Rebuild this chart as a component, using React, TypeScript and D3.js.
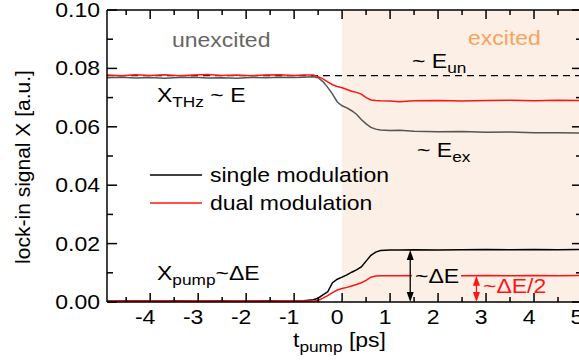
import React from 'react'
import * as d3 from 'd3'

// pump delay (ps)
const time = [-4.9, -4.6, -4.3, -4.0, -3.7, -3.4, -3.1, -2.8, -2.5, -2.2, -1.9, -1.6, -1.3, -1.0, -0.8, -0.6, -0.5, -0.4, -0.3, -0.2, -0.1, 0, 0.1, 0.2, 0.3, 0.4, 0.5, 0.6, 0.7, 0.8, 1.0, 1.2, 1.5, 2.0, 2.5, 3.0, 3.5, 4.0, 4.5, 5.0]

// X_THz, single modulation
const singleTHz = [0.0768, 0.0770, 0.0767, 0.0769, 0.0766, 0.0769, 0.0770, 0.0767, 0.0768, 0.0766, 0.0769, 0.0768, 0.0770, 0.0769, 0.0770, 0.0771, 0.0768, 0.0755, 0.0735, 0.0712, 0.0685, 0.0672, 0.0665, 0.0655, 0.0643, 0.0625, 0.0610, 0.0598, 0.0592, 0.0589, 0.0587, 0.0588, 0.0585, 0.0583, 0.0584, 0.0581, 0.0582, 0.0580, 0.0580, 0.0579]
// X_THz, dual modulation
const dualTHz = [0.0777, 0.0775, 0.0778, 0.0776, 0.0778, 0.0775, 0.0777, 0.0779, 0.0776, 0.0777, 0.0775, 0.0777, 0.0778, 0.0776, 0.0777, 0.0777, 0.0772, 0.0764, 0.0754, 0.0744, 0.0738, 0.0734, 0.0728, 0.0722, 0.0718, 0.0712, 0.0700, 0.0692, 0.0690, 0.0689, 0.0688, 0.0686, 0.0689, 0.0690, 0.0688, 0.0690, 0.0691, 0.0689, 0.0691, 0.0690]
// X_pump, single modulation
const singlePump = [0.0003, 0.0003, 0.0004, 0.0003, 0.0003, 0.0004, 0.0003, 0.0003, 0.0004, 0.0003, 0.0003, 0.0004, 0.0003, 0.0003, 0.0004, 0.0008, 0.0013, 0.0024, 0.0035, 0.0066, 0.0078, 0.0085, 0.0093, 0.0102, 0.0110, 0.0120, 0.0140, 0.0160, 0.0171, 0.0176, 0.0178, 0.0178, 0.0179, 0.0178, 0.0179, 0.0180, 0.0179, 0.0180, 0.0179, 0.0180]
// X_pump, dual modulation
const dualPump = [0.0003, 0.0003, 0.0003, 0.0003, 0.0003, 0.0003, 0.0003, 0.0003, 0.0003, 0.0003, 0.0003, 0.0003, 0.0003, 0.0003, 0.0003, 0.0003, 0.0005, 0.0013, 0.0022, 0.0032, 0.0041, 0.0046, 0.0050, 0.0055, 0.0060, 0.0066, 0.0074, 0.0085, 0.0089, 0.0090, 0.0090, 0.0090, 0.0091, 0.0090, 0.0090, 0.0091, 0.0090, 0.0091, 0.0090, 0.0091]

const eUn = 0.0775 // dashed reference level
const arrowBlack = { t: 1.42, top: 0.0178 }
const arrowRed = { t: 2.8, top: 0.009 }

const xTicks = [-4, -3, -2, -1, 0, 1, 2, 3, 4, 5]
const xMinor = [-4.5, -3.5, -2.5, -1.5, -0.5, 0.5, 1.5, 2.5, 3.5, 4.5]
const yTicks = [0, 0.02, 0.04, 0.06, 0.08, 0.1]
const yLabels = ['0.00', '0.02', '0.04', '0.06', '0.08', '0.10']
const yMinor = [0.01, 0.03, 0.05, 0.07, 0.09]

const W = 579
const H = 361
const FONT = 'Liberation Sans, Arial, Helvetica, sans-serif'
const SHADE = '#fbefe6'
const RED = '#ff1414'

// text that is a bit wider than plain Arial, like the original figure
function T({ x, y, anchor = 'start', size = 20, fill = '#000', sx = 1.15, children }: any) {
  return (
    <text transform={`translate(${x},${y}) scale(${sx},1)`} textAnchor={anchor} fontSize={size} fill={fill} fontFamily={FONT}>
      {children}
    </text>
  )
}

function Arrow({ x, y1, y2, color }: any) {
  const hl = 10, hw = 3.5
  return (
    <g fill={color} stroke={color}>
      <line x1={x} x2={x} y1={y1 + hl - 1} y2={y2 - hl + 1} strokeWidth={1.3} />
      <path d={`M${x},${y1} L${x - hw},${y1 + hl} L${x + hw},${y1 + hl} Z`} stroke="none" />
      <path d={`M${x},${y2} L${x - hw},${y2 - hl} L${x + hw},${y2 - hl} Z`} stroke="none" />
    </g>
  )
}

export default function App() {
  const x = d3.scaleLinear().domain([-4.9, 5]).range([107, 582])
  const y = d3.scaleLinear().domain([0, 0.1]).range([302, 10])
  const [x0, x1] = x.range()
  const [yb, yt] = y.range()

  const line = (vals: number[]) =>
    d3.line<number>().x((_, i) => x(time[i])).y(d => y(d))(vals) || ''

  return (
    <svg width={W} height={H} style={{ position: 'absolute', left: 0, top: 0 }} fontFamily={FONT}>
      <rect width={W} height={H} fill="#fff" />
      {/* excited region */}
      <rect x={x(0)} y={yt} width={x1 - x(0)} height={yb - yt} fill={SHADE} />

      {/* unexcited level */}
      <line x1={x0} x2={x1} y1={y(eUn)} y2={y(eUn)} stroke="#000" strokeWidth={1.3} strokeDasharray="7,5" />

      <path d={line(singleTHz)} fill="none" stroke="#555" strokeWidth={1.5} />
      <path d={line(dualTHz)} fill="none" stroke={RED} strokeWidth={1.5} />
      <path d={line(singlePump)} fill="none" stroke="#000" strokeWidth={1.5} />
      <path d={line(dualPump)} fill="none" stroke={RED} strokeWidth={1.5} />

      {/* axes frame */}
      <g stroke="#000" strokeWidth={1.5}>
        <line x1={x0} x2={x0} y1={yt} y2={yb} />
        <line x1={x0} x2={x1} y1={yb} y2={yb} />
        <line x1={x0} x2={x1} y1={yt} y2={yt} />
        <line x1={x1} x2={x1} y1={yt} y2={yb} />
        {xTicks.map(t => (
          <g key={'xt' + t}>
            <line x1={x(t)} x2={x(t)} y1={yb} y2={yb - 9} />
            <line x1={x(t)} x2={x(t)} y1={yt} y2={yt + 9} />
          </g>
        ))}
        {xMinor.map(t => (
          <g key={'xm' + t}>
            <line x1={x(t)} x2={x(t)} y1={yb} y2={yb - 5} />
            <line x1={x(t)} x2={x(t)} y1={yt} y2={yt + 5} />
          </g>
        ))}
        {yTicks.map(v => (
          <g key={'yt' + v}>
            <line x1={x0} x2={x0 + 10} y1={y(v)} y2={y(v)} />
            <line x1={x1} x2={x1 - 10} y1={y(v)} y2={y(v)} />
          </g>
        ))}
        {yMinor.map(v => (
          <g key={'ym' + v}>
            <line x1={x0} x2={x0 + 6} y1={y(v)} y2={y(v)} />
            <line x1={x1} x2={x1 - 6} y1={y(v)} y2={y(v)} />
          </g>
        ))}
      </g>

      {yTicks.map((v, i) => (
        <T key={'yl' + v} x={x0 - 7} y={y(v) + 7} anchor="end">{yLabels[i]}</T>
      ))}
      {xTicks.map(t => (
        <T key={'xl' + t} x={x(t) - 5} y={324} anchor="middle">{String(t).replace('-', '-')}</T>
      ))}

      {/* axis titles */}
      <text transform={`translate(30,167) rotate(-90)`} textAnchor="middle" fontSize={21} fontFamily={FONT}>
        lock-in signal X [a.u.]
      </text>
      <T x={293} y={347}>
        t<tspan fontSize={15} dy={5}>pump</tspan><tspan dy={-5}> [ps]</tspan>
      </T>

      {/* region labels */}
      <T x={172} y={47} fill="#666">unexcited</T>
      <T x={468} y={45} fill="#f5a35f">excited</T>

      {/* annotations */}
      <T x={412} y={68}>~ E<tspan fontSize={15} dy={5}>un</tspan></T>
      <T x={157} y={102}>X<tspan fontSize={15} dy={5}>THz</tspan><tspan dy={-5}> ~ E</tspan></T>
      <T x={417} y={157}>~ E<tspan fontSize={15} dy={5}>ex</tspan></T>
      <T x={157} y={280}>X<tspan fontSize={15} dy={5}>pump</tspan><tspan dy={-5}>~ΔE</tspan></T>

      {/* legend */}
      <line x1={150} x2={202} y1={175} y2={175} stroke="#000" strokeWidth={1.5} />
      <line x1={150} x2={202} y1={203} y2={203} stroke={RED} strokeWidth={1.5} />
      <T x={210} y={182}>single modulation</T>
      <T x={210} y={210}>dual modulation</T>

      {/* ΔE arrows */}
      <rect x={412} y={262} width={49} height={28} fill={SHADE} />
      <Arrow x={x(arrowBlack.t)} y1={y(arrowBlack.top)} y2={y(0)} color="#000" />
      <T x={415} y={283}>~ΔE</T>
      <Arrow x={x(arrowRed.t)} y1={y(arrowRed.top)} y2={y(0)} color={RED} />
      <T x={483} y={293} fill={RED}>~ΔE/2</T>
    </svg>
  )
}
